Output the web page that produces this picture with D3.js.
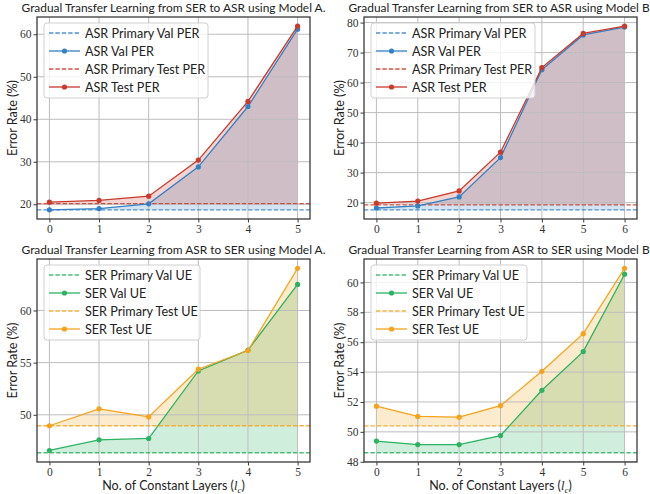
<!DOCTYPE html>
<html>
<head>
<meta charset="utf-8">
<script src="https://cdn.jsdelivr.net/npm/d3@7"></script>
<style>
  body { margin: 0; background: #fff; }
  svg { display: block; }
  .sans { font-family: Lato, "Liberation Sans", sans-serif; fill: #222; }
  .serif { font-family: "Liberation Serif", serif; fill: #333; }
</style>
</head>
<body>
<div class="wrapper"></div>
<script>
width = 650;
height = 494;

// x values (no. of constant layers)
layersA = [0, 1, 2, 3, 4, 5];
layersB = [0, 1, 2, 3, 4, 5, 6];

// SER -> ASR, model A
asrValA = [18.7, 19.0, 20.1, 28.8, 43.0, 61.2];
asrTestA = [20.5, 20.9, 21.9, 30.4, 44.2, 61.9];
asrPrimValA = 18.7;
asrPrimTestA = 20.15;

// SER -> ASR, model B
asrValB = [18.2, 18.9, 21.9, 35.0, 64.3, 75.9, 78.5];
asrTestB = [19.8, 20.5, 23.9, 36.8, 65.0, 76.4, 78.8];
asrPrimValB = 17.6;
asrPrimTestB = 19.25;

// ASR -> SER, model A
serValA = [46.58, 47.6, 47.73, 54.2, 56.2, 62.5];
serTestA = [48.95, 50.57, 49.8, 54.37, 56.16, 64.05];
serPrimValA = 46.36;
serPrimTestA = 48.95;

// ASR -> SER, model B
serValB = [49.38, 49.15, 49.15, 49.75, 52.78, 55.37, 60.55];
serTestB = [51.72, 51.03, 50.98, 51.75, 54.05, 56.57, 60.95];
serPrimValB = 48.6;
serPrimTestB = 50.4;

// tick labels
yTicksAsrA = [20, 30, 40, 50, 60];
yTicksAsrB = [20, 30, 40, 50, 60, 70, 80];
yTicksSerA = [50, 55, 60];
yTicksSerB = [48, 50, 52, 54, 56, 58, 60];

asrLabels = ["ASR Primary Val PER", "ASR Val PER", "ASR Primary Test PER", "ASR Test PER"];
serLabels = ["SER Primary Val UE", "SER Val UE", "SER Primary Test UE", "SER Test UE"];

colBlue = "#3380c4";
colRed = "#c9392c";
colGreen = "#2bb361";
colOrange = "#f5a21c";

svg = d3.select(".wrapper")
  .append("svg")
  .attr("width", width)
  .attr("height", height);

// shrink/grow a text so it spans roughly the width seen in the picture
function fitText(sel, target) {
  var len = sel.node().getComputedTextLength();
  var fs = +sel.attr("font-size");
  sel.attr("font-size", (fs * target / len).toFixed(2));
}

function drawPanel(p) {
  var pw = p.w, ph = p.h;
  var g = svg.append("g").attr("transform", "translate(" + p.left + "," + p.top + ")");

  // matplotlib style 5% margins
  var xr = d3.max(p.xs) - d3.min(p.xs);
  var x = d3.scaleLinear()
    .domain([d3.min(p.xs) - 0.05 * xr, d3.max(p.xs) + 0.05 * xr])
    .range([0, pw]);
  var all = p.val.concat(p.test, [p.primVal, p.primTest]);
  var lo = d3.min(all), hi = d3.max(all), yr = hi - lo;
  var y = d3.scaleLinear()
    .domain([lo - 0.05 * yr, hi + 0.05 * yr])
    .range([ph, 0]);

  var valPts = p.xs.map(function (d, i) { return { x: d, v: p.val[i] }; });
  var testPts = p.xs.map(function (d, i) { return { x: d, v: p.test[i] }; });

  // fills between primary line and curve
  g.append("path")
    .attr("d", d3.area().x(function (d) { return x(d.x); }).y0(y(p.primVal)).y1(function (d) { return y(d.v); })(valPts))
    .attr("fill", p.c1).attr("fill-opacity", 0.22);
  g.append("path")
    .attr("d", d3.area().x(function (d) { return x(d.x); }).y0(y(p.primTest)).y1(function (d) { return y(d.v); })(testPts))
    .attr("fill", p.c2).attr("fill-opacity", 0.22);

  // grid
  g.append("g").selectAll("line").data(p.xs).enter().append("line")
    .attr("x1", function (d) { return x(d); }).attr("x2", function (d) { return x(d); })
    .attr("y1", 0).attr("y2", ph)
    .attr("stroke", "#bdbdbd").attr("stroke-width", 1);
  g.append("g").selectAll("line").data(p.yTicks).enter().append("line")
    .attr("y1", function (d) { return y(d); }).attr("y2", function (d) { return y(d); })
    .attr("x1", 0).attr("x2", pw)
    .attr("stroke", "#bdbdbd").attr("stroke-width", 1);

  // primary dashed lines
  [[p.primVal, p.c1], [p.primTest, p.c2]].forEach(function (h) {
    g.append("line")
      .attr("x1", 0).attr("x2", pw)
      .attr("y1", y(h[0])).attr("y2", y(h[0]))
      .attr("stroke", h[1]).attr("stroke-opacity", 0.85)
      .attr("stroke-width", 1.3).attr("stroke-dasharray", "4.4,2");
  });

  // series lines + markers
  var line = d3.line().x(function (d) { return x(d.x); }).y(function (d) { return y(d.v); });
  [[valPts, p.c1], [testPts, p.c2]].forEach(function (s) {
    g.append("path").attr("d", line(s[0]))
      .attr("fill", "none").attr("stroke", s[1]).attr("stroke-width", 1.3);
    g.append("g").selectAll("circle").data(s[0]).enter().append("circle")
      .attr("cx", function (d) { return x(d.x); })
      .attr("cy", function (d) { return y(d.v); })
      .attr("r", 2.6).attr("fill", s[1]);
  });

  // frame
  g.append("rect").attr("width", pw).attr("height", ph)
    .attr("fill", "none").attr("stroke", "#3a3a3a").attr("stroke-width", 1.3);

  // axes
  var xa = g.append("g").attr("transform", "translate(0," + ph + ")")
    .call(d3.axisBottom(x).tickValues(p.xs).tickSize(3.5).tickPadding(2).tickFormat(d3.format("d")));
  var ya = g.append("g")
    .call(d3.axisLeft(y).tickValues(p.yTicks).tickSize(3.5).tickPadding(2).tickFormat(d3.format("d")));
  [xa, ya].forEach(function (a) {
    a.select(".domain").remove();
    a.selectAll(".tick line").attr("stroke", "#3a3a3a");
    a.selectAll("text").attr("class", "serif").attr("font-size", 11.5).attr("fill", "#333");
  });

  // title
  var tt = g.append("text").attr("class", "sans")
    .attr("x", pw / 2).attr("y", -5)
    .attr("text-anchor", "middle").attr("font-size", 13)
    .text(p.title);
  fitText(tt, 304);

  // y label
  var yl = g.append("text").attr("class", "sans")
    .attr("transform", "translate(" + (-20) + "," + (ph / 2) + ") rotate(-90)")
    .attr("text-anchor", "middle").attr("font-size", 12)
    .text("Error Rate (%)");
  fitText(yl, 76);

  // x label
  if (p.xlabel) {
    var t = g.append("text").attr("class", "sans")
      .attr("x", pw / 2).attr("y", ph + 28)
      .attr("text-anchor", "middle").attr("font-size", 12.5);
    t.append("tspan").text("No. of Constant Layers (");
    t.append("tspan").attr("font-family", "Liberation Serif, serif").attr("font-style", "italic").text("l");
    t.append("tspan").attr("font-family", "Liberation Serif, serif").attr("font-style", "italic")
      .attr("font-size", 9).attr("dy", 2.5).text("c");
    t.append("tspan").attr("dy", -2.5).text(")");
  }

  // legend
  var lg = g.append("g").attr("transform", "translate(7,6)");
  lg.append("rect").attr("width", p.legW).attr("height", 75).attr("rx", 3)
    .attr("fill", "#fff").attr("fill-opacity", 0.8)
    .attr("stroke", "#d0d0d0").attr("stroke-width", 1);
  var items = [
    { c: p.c1, dash: true }, { c: p.c1, dash: false },
    { c: p.c2, dash: true }, { c: p.c2, dash: false }
  ];
  items.forEach(function (it, i) {
    var yy = 10 + i * 18;
    lg.append("line").attr("x1", 5).attr("x2", 36).attr("y1", yy).attr("y2", yy)
      .attr("stroke", it.c).attr("stroke-width", 1.3)
      .attr("stroke-opacity", it.dash ? 0.85 : 1)
      .attr("stroke-dasharray", it.dash ? "4.4,2" : null);
    if (!it.dash) {
      lg.append("circle").attr("cx", 20.5).attr("cy", yy).attr("r", 2.6).attr("fill", it.c);
    }
    lg.append("text").attr("class", "sans")
      .attr("x", 41).attr("y", yy + 4.5).attr("font-size", 12.6)
      .text(p.labels[i]);
  });
}

drawPanel({
  left: 37, top: 17, w: 273, h: 202,
  xs: layersA, val: asrValA, test: asrTestA, primVal: asrPrimValA, primTest: asrPrimTestA,
  yTicks: yTicksAsrA, c1: colBlue, c2: colRed, labels: asrLabels, legW: 164,
  title: "Gradual Transfer Learning from SER to ASR using Model A.", xlabel: false
});
drawPanel({
  left: 364, top: 17, w: 273, h: 202,
  xs: layersB, val: asrValB, test: asrTestB, primVal: asrPrimValB, primTest: asrPrimTestB,
  yTicks: yTicksAsrB, c1: colBlue, c2: colRed, labels: asrLabels, legW: 164,
  title: "Gradual Transfer Learning from SER to ASR using Model B.", xlabel: false
});
drawPanel({
  left: 37, top: 259, w: 273, h: 203,
  xs: layersA, val: serValA, test: serTestA, primVal: serPrimValA, primTest: serPrimTestA,
  yTicks: yTicksSerA, c1: colGreen, c2: colOrange, labels: serLabels, legW: 156,
  title: "Gradual Transfer Learning from ASR to SER using Model A.", xlabel: true
});
drawPanel({
  left: 364, top: 259, w: 273, h: 203,
  xs: layersB, val: serValB, test: serTestB, primVal: serPrimValB, primTest: serPrimTestB,
  yTicks: yTicksSerB, c1: colGreen, c2: colOrange, labels: serLabels, legW: 156,
  title: "Gradual Transfer Learning from ASR to SER using Model B.", xlabel: true
});
</script>
</body>
</html>
